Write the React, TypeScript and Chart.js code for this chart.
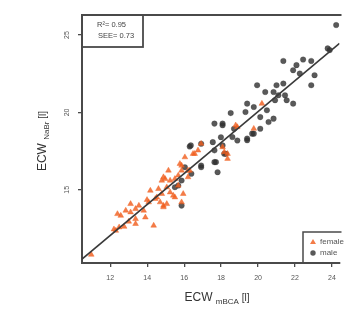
import React, { useEffect, useRef } from "react";
import { Chart, registerables } from "chart.js";

Chart.register(...registerables);

const xTicks = [12, 14, 16, 18, 20, 22, 24];
const yTicks = [15, 20, 25];

const femaleX = [10.97, 12.30, 12.48, 12.75, 12.39, 12.57, 12.84, 13.10, 13.10, 13.37, 13.55, 13.37, 13.37, 13.81, 13.90, 14.08, 13.99, 14.17, 14.35, 14.52, 14.44, 14.61, 14.70, 14.79, 14.79, 14.88, 14.88, 14.97, 15.06, 15.06, 15.15, 15.24, 15.24, 15.41, 15.50, 15.50, 15.68, 15.68, 15.77, 15.86, 15.86, 15.95, 16.04, 16.21, 16.21, 16.57, 16.48, 16.75, 16.30, 15.86, 14.88, 16.92, 18.08, 18.35, 18.17, 18.35, 18.79, 18.88, 19.77, 20.21, 12.20, 13.00];
const femaleY = [10.81, 12.36, 12.58, 12.62, 13.44, 13.33, 13.66, 14.09, 13.55, 13.77, 13.98, 13.12, 12.80, 13.66, 13.22, 14.20, 14.35, 14.95, 12.69, 14.52, 14.42, 15.06, 14.20, 14.74, 15.60, 13.98, 13.88, 15.71, 14.09, 15.17, 16.25, 14.84, 15.60, 14.63, 15.71, 14.52, 15.28, 15.93, 16.68, 16.25, 14.20, 14.74, 17.11, 16.25, 15.82, 17.33, 17.33, 17.55, 16.25, 16.57, 15.82, 17.98, 17.76, 17.33, 17.44, 17.01, 19.17, 19.06, 18.95, 20.57, 12.45, 12.95];

const maleX = [15.50, 15.68, 15.86, 15.86, 16.04, 16.39, 16.30, 16.36, 16.92, 16.92, 16.92, 17.55, 17.64, 17.64, 17.81, 17.72, 18.08, 18.17, 18.26, 17.99, 18.52, 17.64, 18.08, 18.08, 18.70, 18.61, 18.88, 19.41, 19.41, 19.68, 19.77, 20.12, 19.41, 19.32, 19.77, 20.12, 20.48, 20.57, 20.84, 19.95, 20.39, 21.00, 21.37, 20.84, 21.10, 20.92, 21.46, 21.55, 21.90, 21.37, 22.08, 22.44, 22.88, 21.90, 22.26, 23.06, 22.88, 23.77, 23.88, 24.23];
const maleY = [15.17, 15.28, 15.60, 13.98, 16.46, 16.04, 17.80, 17.87, 17.98, 16.46, 16.57, 18.08, 17.55, 16.79, 16.14, 16.79, 17.87, 17.33, 17.33, 18.40, 19.96, 19.28, 19.17, 19.28, 18.95, 18.41, 18.19, 18.31, 18.20, 18.63, 18.63, 18.95, 20.57, 20.03, 20.35, 19.70, 20.14, 19.38, 19.60, 21.76, 21.32, 21.76, 21.87, 21.32, 21.11, 20.79, 21.11, 20.79, 20.57, 23.33, 23.06, 23.42, 23.33, 22.73, 22.52, 22.41, 21.76, 24.14, 24.03, 25.65];

const fitX = [10.47, 24.41];
const fitY = [10.52, 24.46];

const FONT = "'Liberation Sans', Arial, sans-serif";
const FEMALE_COLOR = "rgba(240, 95, 32, 0.82)";
const MALE_COLOR = "rgba(48, 48, 48, 0.8)";
const FRAME = "#4a4a4a";

const overlay = {
  id: "overlay",
  afterDraw(chart: any) {
    const { ctx, chartArea: a } = chart;
    ctx.save();
    ctx.strokeStyle = FRAME;
    ctx.lineWidth = 2;
    ctx.beginPath();
    ctx.moveTo(a.left - 1, a.top);
    ctx.lineTo(a.right + 2, a.top);
    ctx.stroke();

    // stats box
    ctx.lineWidth = 1.8;
    ctx.strokeRect(a.left, a.top, 61, 32);
    ctx.fillStyle = "#444";
    ctx.font = `7.5px ${FONT}`;
    ctx.textBaseline = "middle";
    ctx.textAlign = "left";
    ctx.fillText("R²= 0.95", a.left + 15, a.top + 10);
    ctx.fillText("SEE= 0.73", a.left + 16, a.top + 21);

    // legend box
    const lx = a.left + 221;
    const ly = a.bottom - 31;
    ctx.lineWidth = 1.5;
    ctx.strokeStyle = FRAME;
    ctx.beginPath();
    ctx.moveTo(lx, a.bottom);
    ctx.lineTo(lx, ly);
    ctx.lineTo(a.right + 2, ly);
    ctx.stroke();
    ctx.fillStyle = FEMALE_COLOR;
    ctx.beginPath();
    ctx.moveTo(lx + 10, ly + 7);
    ctx.lineTo(lx + 13, ly + 12);
    ctx.lineTo(lx + 7, ly + 12);
    ctx.closePath();
    ctx.fill();
    ctx.fillStyle = MALE_COLOR;
    ctx.beginPath();
    ctx.arc(lx + 10, ly + 21, 2.7, 0, Math.PI * 2);
    ctx.fill();
    ctx.fillStyle = "#555";
    ctx.font = `8px ${FONT}`;
    ctx.fillText("female", lx + 17, ly + 10);
    ctx.fillText("male", lx + 17, ly + 21);

    // axis titles with subscripts
    ctx.fillStyle = "#333";
    ctx.textBaseline = "alphabetic";
    ctx.textAlign = "left";
    const parts = (subText: string) => [
      { t: "ECW ", f: `12px ${FONT}`, dy: 0 },
      { t: subText, f: `8px ${FONT}`, dy: 3 },
      { t: " [l]", f: `10px ${FONT}`, dy: 0 },
    ];
    const measure = (ps: any[]) =>
      ps.reduce((s, p) => {
        ctx.font = p.f;
        return s + ctx.measureText(p.t).width;
      }, 0);
    const drawParts = (ps: any[], startX: number, baseY: number) => {
      let xx = startX;
      for (const p of ps) {
        ctx.font = p.f;
        ctx.fillText(p.t, xx, baseY + p.dy);
        xx += ctx.measureText(p.t).width;
      }
    };
    const xp = parts("mBCA");
    const xw = measure(xp);
    drawParts(xp, 217 - xw / 2, 301);

    const yp = parts("NaBr");
    const yw = measure(yp);
    ctx.save();
    ctx.translate(46, 141);
    ctx.rotate(-Math.PI / 2);
    drawParts(yp, -yw / 2, 0);
    ctx.restore();

    ctx.restore();
  },
};

export default function App() {
  const ref = useRef<HTMLCanvasElement | null>(null);
  useEffect(() => {
    if (!ref.current) return;
    Chart.defaults.font.family = FONT;
    const female = femaleX.map((x, i) => ({ x, y: femaleY[i] }));
    const male = maleX.map((x, i) => ({ x, y: maleY[i] }));
    const fit = fitX.map((x, i) => ({ x, y: fitY[i] }));
    const chart = new Chart(ref.current, {
      type: "scatter",
      data: {
        datasets: [
          {
            label: "fit",
            type: "line",
            data: fit,
            borderColor: "#3a3a3a",
            borderWidth: 1.6,
            pointRadius: 0,
            order: 0,
          } as any,
          {
            label: "female",
            data: female,
            pointStyle: "triangle",
            pointRadius: 3.3,
            backgroundColor: FEMALE_COLOR,
            borderColor: FEMALE_COLOR,
            borderWidth: 0.5,
            order: 1,
          },
          {
            label: "male",
            data: male,
            pointStyle: "circle",
            pointRadius: 2.8,
            backgroundColor: MALE_COLOR,
            borderColor: MALE_COLOR,
            borderWidth: 0.3,
            order: 2,
          },
        ],
      },
      options: {
        animation: false,
        responsive: false,
        maintainAspectRatio: false,
        layout: { padding: { top: 15, right: 0, left: 0, bottom: 0 } },
        plugins: { legend: { display: false }, tooltip: { enabled: false } },
        scales: {
          x: {
            type: "linear",
            min: 10.47,
            max: 24.41,
            afterBuildTicks: (s: any) => {
              s.ticks = xTicks.map((v) => ({ value: v }));
            },
            afterFit: (s: any) => {
              s.height = 50;
            },
            grid: {
              display: true,
              drawOnChartArea: false,
              drawTicks: true,
              tickLength: 4,
              color: FRAME,
              lineWidth: 1.3,
            },
            border: { display: true, color: FRAME, width: 2 },
            ticks: {
              font: { size: 7, family: FONT },
              color: "#555",
              padding: 7,
              maxRotation: 0,
              minRotation: 0,
              callback: (v: any) => String(v),
            },
          },
          y: {
            type: "linear",
            min: 10.27,
            max: 26.3,
            afterBuildTicks: (s: any) => {
              s.ticks = yTicks.map((v) => ({ value: v }));
            },
            afterFit: (s: any) => {
              s.width = 82;
            },
            grid: {
              display: true,
              drawOnChartArea: false,
              drawTicks: true,
              tickLength: 4,
              color: FRAME,
              lineWidth: 1.3,
            },
            border: { display: true, color: FRAME, width: 2 },
            ticks: {
              font: { size: 7, family: FONT },
              color: "#555",
              padding: 7,
              minRotation: 90,
              maxRotation: 90,
              crossAlign: "center",
              callback: (v: any) => String(v),
            },
          },
        },
      },
      plugins: [overlay],
    });
    return () => chart.destroy();
  }, []);
  return (
    <div style={{ position: "fixed", left: 0, top: 0, width: 344, height: 313, background: "#fff", overflow: "hidden" }}>
      <canvas ref={ref} width={344} height={313} style={{ display: "block" }} />
    </div>
  );
}
